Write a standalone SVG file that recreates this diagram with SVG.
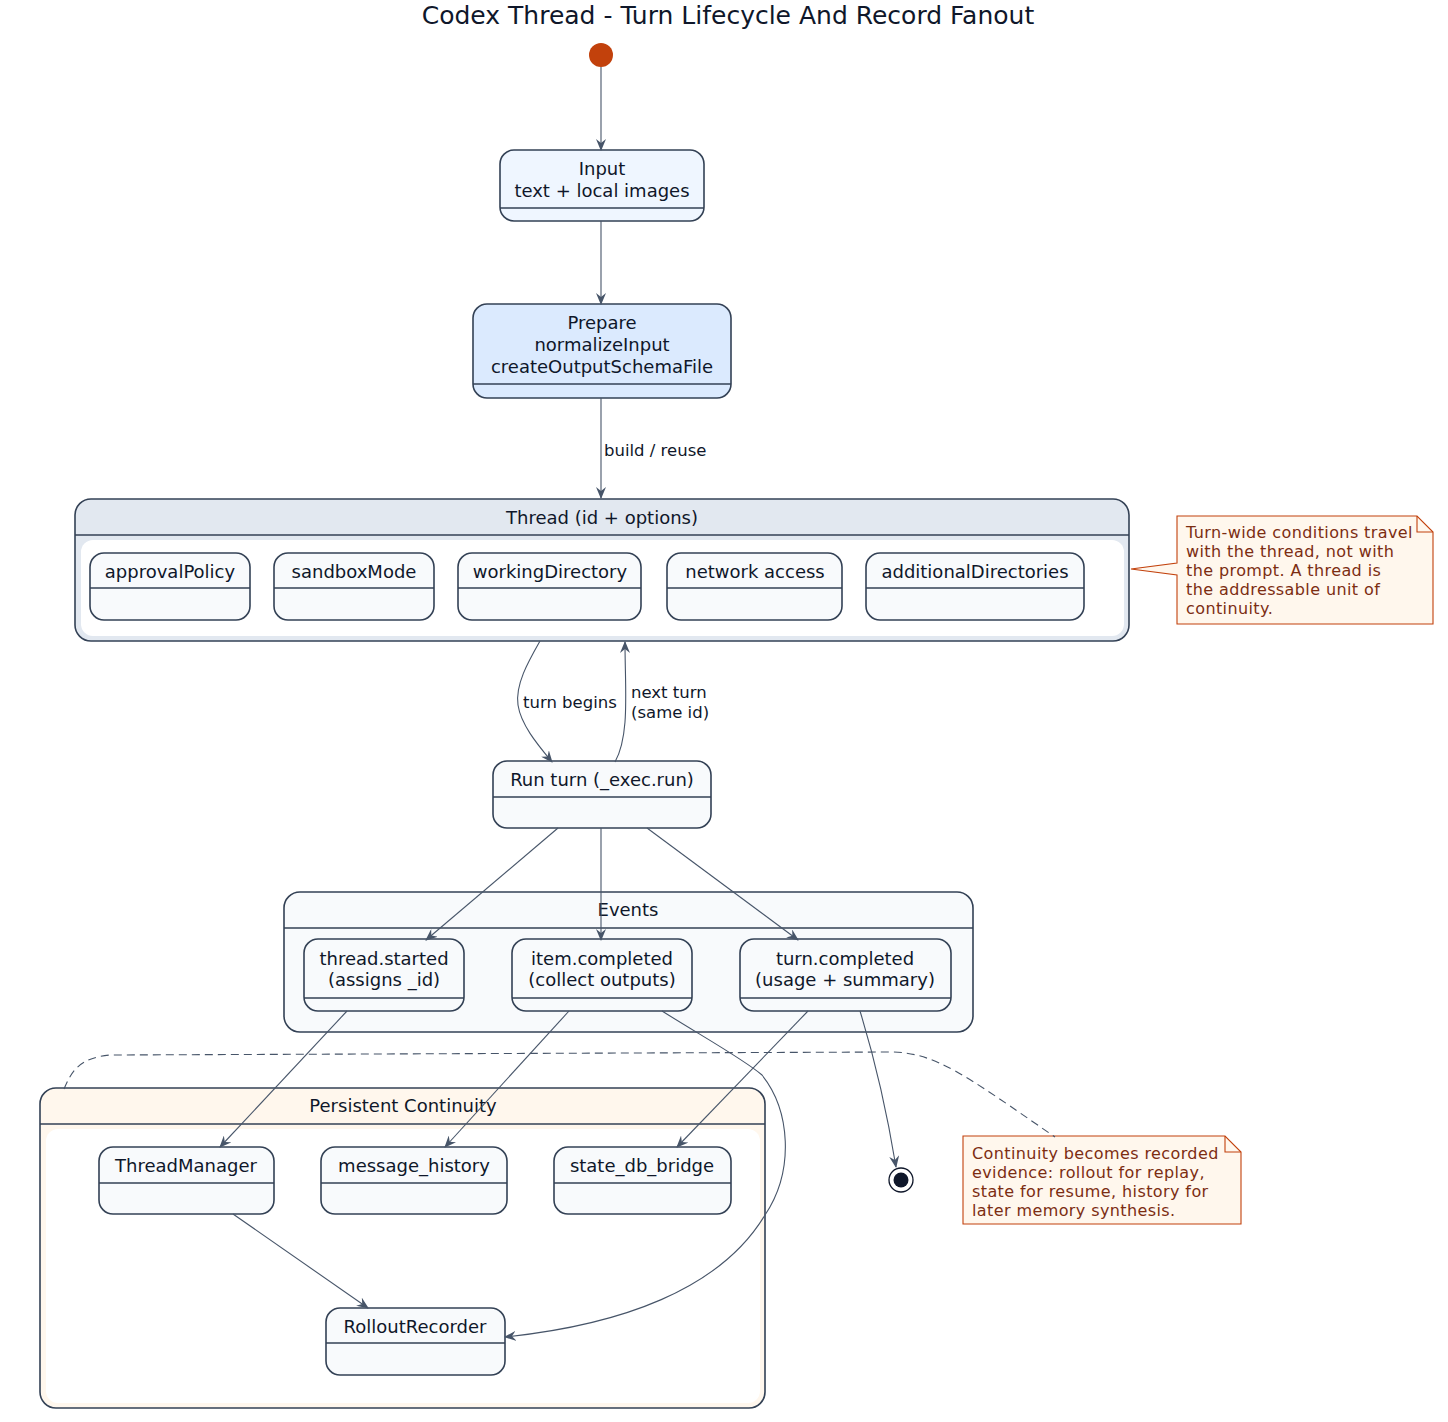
<svg xmlns="http://www.w3.org/2000/svg" width="1448" height="1422" viewBox="0 0 1448 1422">
<defs>
<style>
text{font-family:"DejaVu Sans","Noto Sans",sans-serif;fill:#0F172A}
.t{font-size:18px;text-anchor:middle}
.lbl{font-size:16.5px}
.nt{font-size:16px;fill:#7C2D12;letter-spacing:0.4px}
.st{fill:#F8FAFC;stroke:#334155;stroke-width:1.6}
.dv{stroke:#334155;stroke-width:1.6}
.ol{fill:none;stroke:#334155;stroke-width:1.6}
.e{fill:none;stroke:#475569;stroke-width:1.1;marker-end:url(#ah)}
.note{fill:#FFF7ED;stroke:#C2410C;stroke-width:1.1}
</style>
<marker id="ah" viewBox="0 0 12 10" refX="11" refY="5" markerWidth="12" markerHeight="10" markerUnits="userSpaceOnUse" orient="auto">
<path d="M0,0 L12,5 L0,10 L4,5 Z" fill="#475569"/>
</marker>
</defs>
<rect width="1448" height="1422" fill="#FFFFFF"/>
<text x="728" y="24" style="font-size:25px;text-anchor:middle">Codex Thread - Turn Lifecycle And Record Fanout</text>

<g id="start"><circle cx="601" cy="55" r="12" fill="#C2410C"/></g>

<g id="input">
<rect x="500" y="150" width="204" height="71" rx="14" class="st" style="fill:#EFF6FF"/>
<line x1="500" y1="208" x2="704" y2="208" class="dv"/>
<text x="602" y="175" class="t">Input</text>
<text x="602" y="197" class="t">text + local images</text>
</g>

<g id="prepare">
<rect x="473" y="304" width="258" height="94" rx="14" class="st" style="fill:#DBEAFE"/>
<line x1="473" y1="384" x2="731" y2="384" class="dv"/>
<text x="602" y="329" class="t">Prepare</text>
<text x="602" y="351" class="t">normalizeInput</text>
<text x="602" y="373" class="t">createOutputSchemaFile</text>
</g>

<g id="thread">
<path d="M75,535 V515 A16,16 0 0 1 91,499 H1113 A16,16 0 0 1 1129,515 V535 Z" fill="#E2E8F0"/>
<path d="M75,535 H1129 V625 A16,16 0 0 1 1113,641 H91 A16,16 0 0 1 75,625 Z" fill="#E2E8F0"/>
<rect x="81" y="540" width="1043" height="96" rx="12" fill="#FFFFFF"/>
<rect x="75" y="499" width="1054" height="142" rx="16" class="ol"/>
<line x1="75" y1="535" x2="1129" y2="535" class="dv"/>
<text x="602" y="524" class="t">Thread (id + options)</text>
</g>
<g id="approvalPolicy">
<rect x="90" y="553" width="160" height="67" rx="14" class="st"/>
<line x1="90" y1="588" x2="250" y2="588" class="dv"/>
<text x="170" y="578" class="t">approvalPolicy</text>
</g>
<g id="sandboxMode">
<rect x="274" y="553" width="160" height="67" rx="14" class="st"/>
<line x1="274" y1="588" x2="434" y2="588" class="dv"/>
<text x="354" y="578" class="t">sandboxMode</text>
</g>
<g id="workingDirectory">
<rect x="458" y="553" width="183" height="67" rx="14" class="st"/>
<line x1="458" y1="588" x2="641" y2="588" class="dv"/>
<text x="550" y="578" class="t">workingDirectory</text>
</g>
<g id="networkAccess">
<rect x="667" y="553" width="175" height="67" rx="14" class="st"/>
<line x1="667" y1="588" x2="842" y2="588" class="dv"/>
<text x="755" y="578" class="t">network access</text>
</g>
<g id="additionalDirectories">
<rect x="866" y="553" width="218" height="67" rx="14" class="st"/>
<line x1="866" y1="588" x2="1084" y2="588" class="dv"/>
<text x="975" y="578" class="t">additionalDirectories</text>
</g>

<g id="note1">
<path d="M1177,516 H1417 L1433,532 V624 H1177 V575 L1131,569 L1177,563 Z" class="note"/>
<path d="M1417,516 V532 H1433" fill="none" stroke="#C2410C" stroke-width="1.1"/>
<text x="1186" y="538" class="nt">Turn-wide conditions travel</text>
<text x="1186" y="557" class="nt">with the thread, not with</text>
<text x="1186" y="576" class="nt">the prompt. A thread is</text>
<text x="1186" y="595" class="nt">the addressable unit of</text>
<text x="1186" y="614" class="nt">continuity.</text>
</g>

<g id="runTurn">
<rect x="493" y="761" width="218" height="67" rx="14" class="st"/>
<line x1="493" y1="797" x2="711" y2="797" class="dv"/>
<text x="602" y="786" class="t">Run turn (_exec.run)</text>
</g>

<g id="events">
<rect x="284" y="892" width="689" height="140" rx="16" fill="#F8FAFC" stroke="#334155" stroke-width="1.6"/>
<line x1="284" y1="928" x2="973" y2="928" class="dv"/>
<text x="628" y="916" class="t">Events</text>
</g>
<g id="threadStarted">
<rect x="304" y="939" width="160" height="72" rx="14" class="st"/>
<line x1="304" y1="998" x2="464" y2="998" class="dv"/>
<text x="384" y="965" class="t">thread.started</text>
<text x="384" y="986" class="t">(assigns _id)</text>
</g>
<g id="itemCompleted">
<rect x="512" y="939" width="180" height="72" rx="14" class="st"/>
<line x1="512" y1="998" x2="692" y2="998" class="dv"/>
<text x="602" y="965" class="t">item.completed</text>
<text x="602" y="986" class="t">(collect outputs)</text>
</g>
<g id="turnCompleted">
<rect x="740" y="939" width="211" height="72" rx="14" class="st"/>
<line x1="740" y1="998" x2="951" y2="998" class="dv"/>
<text x="845" y="965" class="t">turn.completed</text>
<text x="845" y="986" class="t">(usage + summary)</text>
</g>

<g id="persistent">
<path d="M40,1124 V1104 A16,16 0 0 1 56,1088 H749 A16,16 0 0 1 765,1104 V1124 Z" fill="#FFF7ED"/>
<path d="M40,1124 H765 V1392 A16,16 0 0 1 749,1408 H56 A16,16 0 0 1 40,1392 Z" fill="#FFF7ED"/>
<rect x="46" y="1129" width="714" height="274" rx="12" fill="#FFFFFF"/>
<rect x="40" y="1088" width="725" height="320" rx="16" class="ol"/>
<line x1="40" y1="1124" x2="765" y2="1124" class="dv"/>
<text x="403" y="1112" class="t">Persistent Continuity</text>
</g>
<g id="threadManager">
<rect x="99" y="1147" width="175" height="67" rx="14" class="st"/>
<line x1="99" y1="1183" x2="274" y2="1183" class="dv"/>
<text x="186" y="1172" class="t">ThreadManager</text>
</g>
<g id="messageHistory">
<rect x="321" y="1147" width="186" height="67" rx="14" class="st"/>
<line x1="321" y1="1183" x2="507" y2="1183" class="dv"/>
<text x="414" y="1172" class="t">message_history</text>
</g>
<g id="stateDbBridge">
<rect x="554" y="1147" width="177" height="67" rx="14" class="st"/>
<line x1="554" y1="1183" x2="731" y2="1183" class="dv"/>
<text x="642" y="1172" class="t">state_db_bridge</text>
</g>
<g id="rolloutRecorder">
<rect x="326" y="1308" width="179" height="67" rx="14" class="st"/>
<line x1="326" y1="1343" x2="505" y2="1343" class="dv"/>
<text x="415" y="1333" class="t">RolloutRecorder</text>
</g>

<g id="end">
<circle cx="901" cy="1180" r="12" fill="#FFFFFF" stroke="#0F172A" stroke-width="1.3"/>
<circle cx="901" cy="1180" r="7.5" fill="#0F172A"/>
</g>

<g id="note2">
<path d="M963,1136 H1225 L1241,1152 V1224 H963 Z" class="note"/>
<path d="M1225,1136 V1152 H1241" fill="none" stroke="#C2410C" stroke-width="1.1"/>
<text x="972" y="1159" class="nt">Continuity becomes recorded</text>
<text x="972" y="1178" class="nt">evidence: rollout for replay,</text>
<text x="972" y="1197" class="nt">state for resume, history for</text>
<text x="972" y="1216" class="nt">later memory synthesis.</text>
</g>

<g id="connectors">
<path d="M601,67 V150" class="e"/>
<path d="M601,221 V304" class="e"/>
<path d="M601,398 V498" class="e"/>
<text x="604" y="456" class="lbl">build / reuse</text>
<path d="M540,641 C528,662 515,685 518,705 C521,725 538,745 552,762" class="e"/>
<text x="523" y="708" class="lbl">turn begins</text>
<path d="M615,762 C630,735 625,690 625,642" class="e"/>
<text x="631" y="698" class="lbl">next turn</text>
<text x="631" y="718" class="lbl">(same id)</text>
<path d="M558,828 L426,940" class="e"/>
<path d="M601,828 V940" class="e"/>
<path d="M647,828 L798,940" class="e"/>
<path d="M347,1011 L220,1147" class="e"/>
<path d="M569,1011 L445,1147" class="e"/>
<path d="M662,1011 C700,1035 745,1060 762,1075 C790,1110 795,1170 765,1215 C720,1290 620,1325 505,1337" class="e"/>
<path d="M808,1011 L677,1147" class="e"/>
<path d="M860,1011 C872,1050 885,1100 896,1167" class="e"/>
<path d="M233,1214 L368,1308" class="e"/>
<path d="M64,1089 C72,1070 80,1058 110,1055 L890,1052 C935,1052 965,1075 1055,1137" fill="none" stroke="#475569" stroke-width="1.1" stroke-dasharray="8,5"/>
</g>
</svg>
